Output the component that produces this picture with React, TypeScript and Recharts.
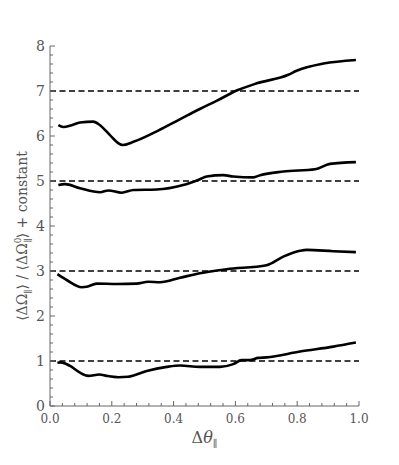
import React from "react";
import { LineChart, Line, XAxis, YAxis, ReferenceLine } from "recharts";

// curve near 7
const topX = [0.027, 0.043, 0.07, 0.097, 0.14, 0.162, 0.194, 0.221, 0.235, 0.27, 0.35, 0.42, 0.485, 0.539, 0.604, 0.669, 0.771, 0.798, 0.885, 0.99];
const topY = [6.24, 6.2, 6.24, 6.3, 6.32, 6.24, 6.02, 5.84, 5.8, 5.87, 6.12, 6.37, 6.6, 6.78, 7.01, 7.17, 7.36, 7.45, 7.61, 7.69];

// curve near 5
const midHiX = [0.027, 0.049, 0.097, 0.162, 0.189, 0.232, 0.27, 0.345, 0.431, 0.485, 0.507, 0.561, 0.593, 0.658, 0.68, 0.755, 0.858, 0.906, 0.99];
const midHiY = [4.91, 4.93, 4.84, 4.75, 4.79, 4.74, 4.8, 4.81, 4.91, 5.04, 5.1, 5.13, 5.1, 5.08, 5.13, 5.21, 5.26, 5.38, 5.42];

// curve near 3
const midLoX = [0.024, 0.054, 0.103, 0.119, 0.151, 0.216, 0.28, 0.318, 0.356, 0.421, 0.485, 0.572, 0.701, 0.755, 0.809, 0.831, 0.917, 0.99];
const midLoY = [2.93, 2.8, 2.64, 2.65, 2.72, 2.71, 2.72, 2.76, 2.75, 2.85, 2.95, 3.04, 3.13, 3.32, 3.45, 3.47, 3.44, 3.42];

// curve near 1
const lowX = [0.024, 0.035, 0.065, 0.097, 0.124, 0.16, 0.183, 0.221, 0.253, 0.313, 0.378, 0.421, 0.485, 0.55, 0.593, 0.62, 0.647, 0.674, 0.701, 0.809, 0.917, 0.99];
const lowY = [0.96, 0.97, 0.89, 0.74, 0.67, 0.7, 0.67, 0.64, 0.65, 0.78, 0.87, 0.9, 0.87, 0.87, 0.93, 1.02, 1.02, 1.07, 1.08, 1.21, 1.32, 1.41];

const refLevels = [1, 3, 5, 7];

const xTicks = [0, 0.04, 0.08, 0.12, 0.16, 0.2, 0.24, 0.28, 0.32, 0.36, 0.4, 0.44, 0.48, 0.52, 0.56, 0.6, 0.64, 0.68, 0.72, 0.76, 0.8, 0.84, 0.88, 0.92, 0.96, 1.0];
const yTicks = [0, 0.2, 0.4, 0.6, 0.8, 1, 1.2, 1.4, 1.6, 1.8, 2, 2.2, 2.4, 2.6, 2.8, 3, 3.2, 3.4, 3.6, 3.8, 4, 4.2, 4.4, 4.6, 4.8, 5, 5.2, 5.4, 5.6, 5.8, 6, 6.2, 6.4, 6.6, 6.8, 7, 7.2, 7.4, 7.6, 7.8, 8];

const zip = (xs: number[], ys: number[]) => xs.map((x, i) => ({ x, y: ys[i] }));

const series = [zip(topX, topY), zip(midHiX, midHiY), zip(midLoX, midLoY), zip(lowX, lowY)];

const FONT = "DejaVu Serif";
const AXIS = "#666";
const TEXT = "#555";
const txt = { fontFamily: FONT, fill: TEXT };

const isMajorX = (v: number) => Math.abs(v * 5 - Math.round(v * 5)) < 1e-6;
const isMajorY = (v: number) => Math.abs(v - Math.round(v)) < 1e-6;

const BottomTick = ({ x, y, payload }: any) => {
  const major = isMajorX(payload.value);
  return (
    <g>
      <line x1={x} x2={x} y1={y} y2={y - (major ? 5 : 3)} stroke={AXIS} />
      {major && (
        <text x={x} y={y + 17} textAnchor="middle" fontSize={12} style={txt}>
          {payload.value.toFixed(1)}
        </text>
      )}
    </g>
  );
};

const TopTick = ({ x, y, payload }: any) => {
  const major = isMajorX(payload.value);
  return <line x1={x} x2={x} y1={y} y2={y + (major ? 5 : 3)} stroke={AXIS} />;
};

const LeftTick = ({ x, y, payload }: any) => {
  const major = isMajorY(payload.value);
  return (
    <g>
      <line x1={x} x2={x + (major ? 5 : 3)} y1={y} y2={y} stroke={AXIS} />
      {major && (
        <text x={x - 5} y={y + 5} textAnchor="end" fontSize={14} style={txt}>
          {Math.round(payload.value)}
        </text>
      )}
    </g>
  );
};

const RightTick = ({ x, y, payload }: any) => {
  const major = isMajorY(payload.value);
  return <line x1={x} x2={x - (major ? 5 : 3)} y1={y} y2={y} stroke={AXIS} />;
};

const XLabel = ({ viewBox }: any) => {
  const cx = viewBox.x + viewBox.width / 2;
  return (
    <text x={cx} y={viewBox.y + 37} textAnchor="middle" fontSize={16} style={txt}>
      Δ<tspan fontStyle="italic">θ</tspan>
      <tspan dy={4} fontSize={10}>∥</tspan>
    </text>
  );
};

const YLabel = ({ viewBox }: any) => {
  const cy = viewBox.y + viewBox.height / 2 + 10;
  const cx = 27;
  return (
    <text
      x={cx}
      y={cy}
      transform={`rotate(-90, ${cx}, ${cy})`}
      textAnchor="middle"
      fontSize={14}
      style={txt}
    >
      ⟨ΔΩ<tspan dy={4} fontSize={9}>∥</tspan>
      <tspan dy={-4}>⟩ / ⟨ΔΩ</tspan>
      <tspan dy={-6} fontSize={9}>0</tspan>
      <tspan dx={-5} dy={10} fontSize={9}>∥</tspan>
      <tspan dy={-4}>⟩ + constant</tspan>
    </text>
  );
};

export default function App() {
  return (
    <div style={{ position: "absolute", left: 0, top: 0, width: 399, height: 465, background: "#fff" }}>
      <LineChart width={399} height={465} margin={{ top: 46, right: 40, bottom: 29, left: 0 }}>
        <XAxis
          xAxisId="b"
          dataKey="x"
          type="number"
          domain={[0, 1]}
          ticks={xTicks}
          interval={0}
          height={30}
          tickSize={0}
          tickMargin={0}
          tickLine={false}
          tick={<BottomTick />}
          axisLine={{ stroke: AXIS }}
          allowDataOverflow
          label={<XLabel />}
        />
        <XAxis
          xAxisId="t"
          orientation="top"
          dataKey="x"
          type="number"
          domain={[0, 1]}
          ticks={xTicks}
          interval={0}
          height={0}
          tickSize={0}
          tickMargin={0}
          tickLine={false}
          tick={<TopTick />}
          axisLine={{ stroke: AXIS }}
        />
        <YAxis
          yAxisId="l"
          type="number"
          domain={[0, 8]}
          ticks={yTicks}
          interval={0}
          width={50}
          tickSize={0}
          tickMargin={0}
          tickLine={false}
          tick={<LeftTick />}
          axisLine={{ stroke: AXIS }}
          allowDataOverflow
          label={<YLabel />}
        />
        <YAxis
          yAxisId="r"
          orientation="right"
          type="number"
          domain={[0, 8]}
          ticks={yTicks}
          interval={0}
          width={0}
          tickSize={0}
          tickMargin={0}
          tickLine={false}
          tick={<RightTick />}
          axisLine={{ stroke: AXIS }}
        />
        {refLevels.map((v) => (
          <ReferenceLine
            key={v}
            xAxisId="b"
            yAxisId="l"
            y={v}
            stroke="#000"
            strokeWidth={1.5}
            strokeDasharray="6 3.5"
          />
        ))}
        {series.map((d, i) => (
          <Line
            key={i}
            xAxisId="b"
            yAxisId="l"
            data={d}
            dataKey="y"
            type="monotone"
            stroke="#000"
            strokeWidth={2.6}
            dot={false}
            activeDot={false}
            isAnimationActive={false}
          />
        ))}
      </LineChart>
    </div>
  );
}
